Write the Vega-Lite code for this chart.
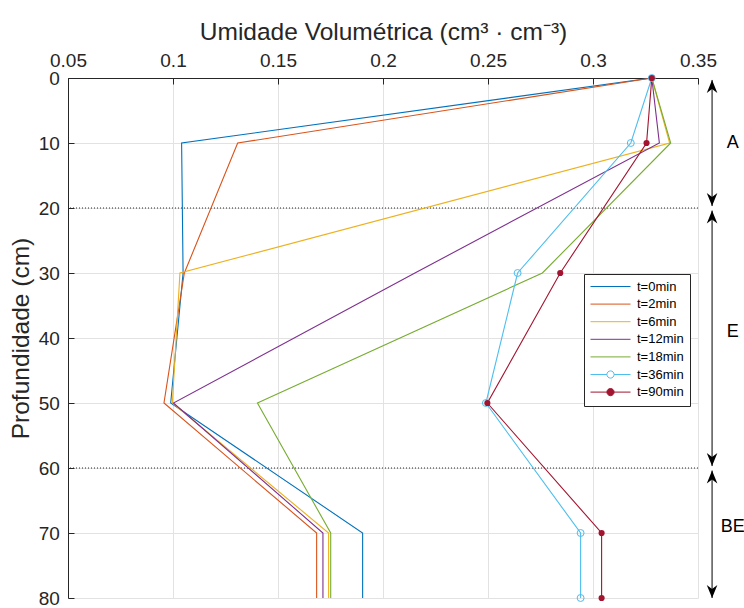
{
  "$schema": "https://vega.github.io/schema/vega-lite/v6.json",
  "width": 630,
  "height": 520,
  "autosize": {"type": "none"},
  "padding": {"left": 68, "top": 78, "right": 46, "bottom": 10},
  "background": "white",
  "datasets": {
    "umidade": [
      {"serie": "t=0min", "prof": 0, "teta": 0.328},
      {"serie": "t=0min", "prof": 10, "teta": 0.1041},
      {"serie": "t=0min", "prof": 30, "teta": 0.1048},
      {"serie": "t=0min", "prof": 50, "teta": 0.0989},
      {"serie": "t=0min", "prof": 70, "teta": 0.1903},
      {"serie": "t=0min", "prof": 80, "teta": 0.1903},
      {"serie": "t=2min", "prof": 0, "teta": 0.328},
      {"serie": "t=2min", "prof": 10, "teta": 0.1308},
      {"serie": "t=2min", "prof": 30, "teta": 0.1054},
      {"serie": "t=2min", "prof": 50, "teta": 0.0957},
      {"serie": "t=2min", "prof": 70, "teta": 0.1684},
      {"serie": "t=2min", "prof": 80, "teta": 0.1684},
      {"serie": "t=6min", "prof": 0, "teta": 0.328},
      {"serie": "t=6min", "prof": 10, "teta": 0.3365},
      {"serie": "t=6min", "prof": 30, "teta": 0.1033},
      {"serie": "t=6min", "prof": 50, "teta": 0.0997},
      {"serie": "t=6min", "prof": 70, "teta": 0.1741},
      {"serie": "t=6min", "prof": 80, "teta": 0.1741},
      {"serie": "t=12min", "prof": 0, "teta": 0.328},
      {"serie": "t=12min", "prof": 10, "teta": 0.3316},
      {"serie": "t=12min", "prof": 30, "teta": 0.2152},
      {"serie": "t=12min", "prof": 50, "teta": 0.1002},
      {"serie": "t=12min", "prof": 70, "teta": 0.1714},
      {"serie": "t=12min", "prof": 80, "teta": 0.1714},
      {"serie": "t=18min", "prof": 0, "teta": 0.328},
      {"serie": "t=18min", "prof": 10, "teta": 0.337},
      {"serie": "t=18min", "prof": 30, "teta": 0.2759},
      {"serie": "t=18min", "prof": 50, "teta": 0.1402},
      {"serie": "t=18min", "prof": 70, "teta": 0.1751},
      {"serie": "t=18min", "prof": 80, "teta": 0.1751},
      {"serie": "t=36min", "prof": 0, "teta": 0.328},
      {"serie": "t=36min", "prof": 10, "teta": 0.318},
      {"serie": "t=36min", "prof": 30, "teta": 0.2641},
      {"serie": "t=36min", "prof": 50, "teta": 0.249},
      {"serie": "t=36min", "prof": 70, "teta": 0.2941},
      {"serie": "t=36min", "prof": 80, "teta": 0.2941},
      {"serie": "t=90min", "prof": 0, "teta": 0.328},
      {"serie": "t=90min", "prof": 10, "teta": 0.3255},
      {"serie": "t=90min", "prof": 30, "teta": 0.2844},
      {"serie": "t=90min", "prof": 50, "teta": 0.2497},
      {"serie": "t=90min", "prof": 70, "teta": 0.3041},
      {"serie": "t=90min", "prof": 80, "teta": 0.3041}
    ],
    "horizontes": [
      {"horizonte": "A", "topo": 0.3, "base": 19.7, "centro": 10},
      {"horizonte": "E", "topo": 20.4, "base": 59.7, "centro": 39},
      {"horizonte": "BE", "topo": 60.4, "base": 80, "centro": 69}
    ],
    "limites": [{"prof": 20}, {"prof": 60}]
  },
  "layer": [
    {
      "data": {"name": "limites"},
      "mark": {"type": "rule", "color": "#262626", "strokeWidth": 1, "strokeDash": [1, 2]},
      "encoding": {
        "y": {"field": "prof", "type": "quantitative", "title": "Profundidade (cm)"}
      }
    },
    {
      "data": {"name": "umidade"},
      "mark": {"type": "line", "strokeWidth": 1.1},
      "encoding": {
        "x": {
          "field": "teta",
          "type": "quantitative",
          "scale": {"domain": [0.05, 0.35], "nice": false, "zero": false},
          "axis": {
            "orient": "top",
            "values": [0.05, 0.1, 0.15, 0.2, 0.25, 0.3, 0.35],
            "format": ".2~f",
            "title": "Umidade Volumétrica (cm³ · cm⁻³)",
            "titleX": 315,
            "titleY": -39,
            "titleAlign": "center",
            "titleBaseline": "alphabetic",
            "labelPadding": 14
          }
        },
        "y": {
          "field": "prof",
          "type": "quantitative",
          "title": "Profundidade (cm)",
          "scale": {"domain": [0, 80], "reverse": true, "nice": false, "zero": false},
          "axis": {
            "orient": "left",
            "values": [0, 10, 20, 30, 40, 50, 60, 70, 80],
            "titleX": -40,
            "titleY": 260,
            "titleAngle": -90,
            "titleAlign": "center",
            "titleBaseline": "alphabetic",
            "labelPadding": 14.7
          }
        },
        "order": {"field": "prof", "type": "quantitative"},
        "color": {
          "field": "serie",
          "type": "nominal",
          "scale": {
            "domain": ["t=0min", "t=2min", "t=6min", "t=12min", "t=18min", "t=36min", "t=90min"],
            "range": ["#0072BD", "#D95319", "#EDB120", "#7E2F8E", "#77AC30", "#4DBEEE", "#A2142F"]
          },
          "legend": {
            "orient": "none",
            "legendX": 516,
            "legendY": 196,
            "title": null,
            "direction": "vertical",
            "padding": 6,
            "rowPadding": 3.6,
            "strokeColor": "#262626",
            "fillColor": "white",
            "symbolSize": 64,
            "symbolStrokeWidth": 1,
            "symbolOffset": 14,
            "labelOffset": 20,
            "labelFont": "Liberation Sans",
            "labelFontSize": 13,
            "labelColor": "#000000",
            "labelLimit": 200,
            "encode": {
              "symbols": {
                "update": {
                  "shape": {"signal": "indexof(['t=36min', 't=90min'], datum.value) >= 0 ? 'M-5,0H-0.9M0.9,0H5M0.9,0A0.9,0.9,0,1,1,-0.9,0A0.9,0.9,0,1,1,0.9,0' : 'M-5,0H5'"},
                  "fill": {"signal": "datum.value === 't=90min' ? '#A2142F' : 'transparent'"},
                  "strokeWidth": {"value": 1}
                }
              }
            }
          }
        }
      }
    },
    {
      "data": {"name": "umidade"},
      "transform": [{"filter": "datum.serie === 't=36min'"}],
      "mark": {"type": "point", "shape": "circle", "filled": false, "color": "#4DBEEE", "size": 48, "strokeWidth": 1, "opacity": 1},
      "encoding": {
        "x": {"field": "teta", "type": "quantitative"},
        "y": {"field": "prof", "type": "quantitative", "title": "Profundidade (cm)"}
      }
    },
    {
      "data": {"name": "umidade"},
      "transform": [{"filter": "datum.serie === 't=90min'"}],
      "mark": {"type": "point", "shape": "circle", "filled": true, "color": "#A2142F", "size": 38, "strokeWidth": 0, "opacity": 1},
      "encoding": {
        "x": {"field": "teta", "type": "quantitative"},
        "y": {"field": "prof", "type": "quantitative", "title": "Profundidade (cm)"}
      }
    },
    {
      "data": {"name": "horizontes"},
      "mark": {"type": "rule", "color": "#000000", "strokeWidth": 1},
      "encoding": {
        "x": {"datum": 0.3567, "type": "quantitative"},
        "y": {"field": "topo", "type": "quantitative", "title": "Profundidade (cm)"},
        "y2": {"field": "base"}
      }
    },
    {
      "data": {"name": "horizontes"},
      "mark": {"type": "point", "shape": "M0,0L2.65,6.5L0,4.5L-2.65,6.5Z", "size": 16, "filled": true, "color": "#000000", "strokeWidth": 0, "opacity": 1},
      "encoding": {
        "x": {"datum": 0.3567, "type": "quantitative"},
        "y": {"field": "topo", "type": "quantitative", "title": "Profundidade (cm)"}
      }
    },
    {
      "data": {"name": "horizontes"},
      "mark": {"type": "point", "shape": "M0,0L2.65,-6.5L0,-4.5L-2.65,-6.5Z", "size": 16, "filled": true, "color": "#000000", "strokeWidth": 0, "opacity": 1},
      "encoding": {
        "x": {"datum": 0.3567, "type": "quantitative"},
        "y": {"field": "base", "type": "quantitative", "title": "Profundidade (cm)"}
      }
    },
    {
      "data": {"name": "horizontes"},
      "mark": {"type": "text", "font": "Liberation Sans", "fontSize": 18, "color": "#000000", "align": "center", "baseline": "middle"},
      "encoding": {
        "x": {"datum": 0.3665, "type": "quantitative"},
        "y": {"field": "centro", "type": "quantitative", "title": "Profundidade (cm)"},
        "text": {"field": "horizonte"}
      }
    }
  ],
  "config": {
    "font": "Liberation Sans",
    "view": {"stroke": null},
    "axis": {
      "labelFont": "Liberation Sans",
      "labelFontSize": 19,
      "labelColor": "#262626",
      "labelFlush": false,
      "labelOverlap": false,
      "titleFont": "Liberation Sans",
      "titleFontSize": 24.5,
      "titleFontWeight": "normal",
      "titleColor": "#262626",
      "tickSize": -6,
      "tickColor": "#262626",
      "tickWidth": 1,
      "domainColor": "#262626",
      "domainWidth": 1,
      "grid": true,
      "gridColor": "#e2e2e2",
      "gridWidth": 1
    }
  }
}
